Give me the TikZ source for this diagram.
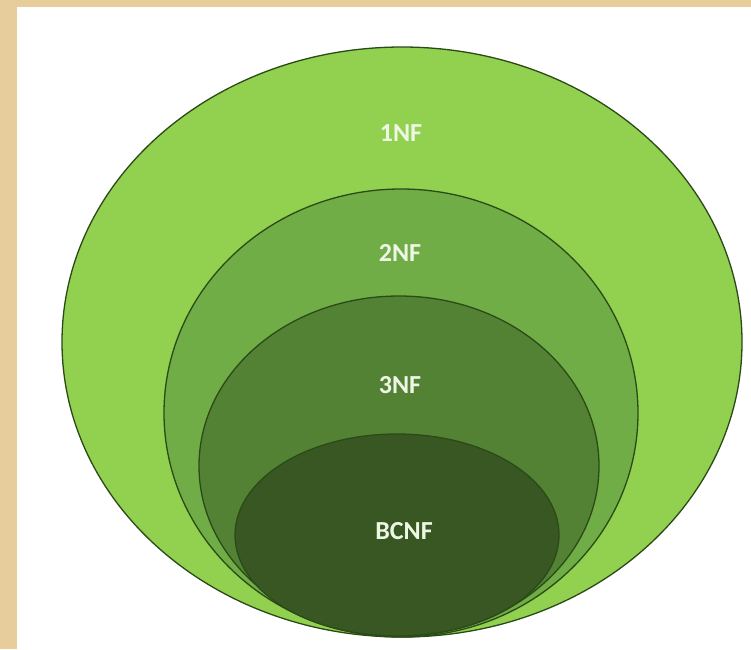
\documentclass[tikz,border=0pt]{standalone}
\usepackage{fontspec}
\setmainfont{Carlito}
\usepackage{tikz}
\usetikzlibrary{positioning,shapes}

\definecolor{paper}{HTML}{E6CD9B}
\definecolor{lvlone}{HTML}{92D050}
\definecolor{lvltwo}{HTML}{70AD47}
\definecolor{lvlthree}{HTML}{548235}
\definecolor{lvlfour}{HTML}{385723}
\definecolor{rim}{HTML}{2A4A16}
\definecolor{lbl}{HTML}{EEF7E6}

\tikzset{
	nfset/.style={draw=rim, line width=1.3pt},
	nflabel/.style={text=lbl, font=\fontsize{26}{28}\selectfont\bfseries, inner sep=0pt}
}

\begin{document}
\begin{tikzpicture}[x=1pt,y=-1pt]
			\useasboundingbox (0,0) rectangle (751,649);
			\fill[paper] (0,0) rectangle (751,7);
			\fill[paper] (0,0) rectangle (17,649);
			
			\draw[nfset, fill=lvlone] (402,342) ellipse [x radius=340, y radius=295];
			\draw[nfset, fill=lvltwo] (401,413) ellipse [x radius=237, y radius=224];
			\draw[nfset, fill=lvlthree] (399,466) ellipse [x radius=200, y radius=170];
			\draw[nfset, fill=lvlfour] (397,535) ellipse [x radius=162, y radius=101];
			
			\node[nflabel] (one) at (401,133) {1NF};
			\node[nflabel] (two) at (400,253) {2NF};
			\node[nflabel] (three) at (400,385) {3NF};
			\node[nflabel] (bc) at (404,531) {BCNF};
\end{tikzpicture}
\end{document}
